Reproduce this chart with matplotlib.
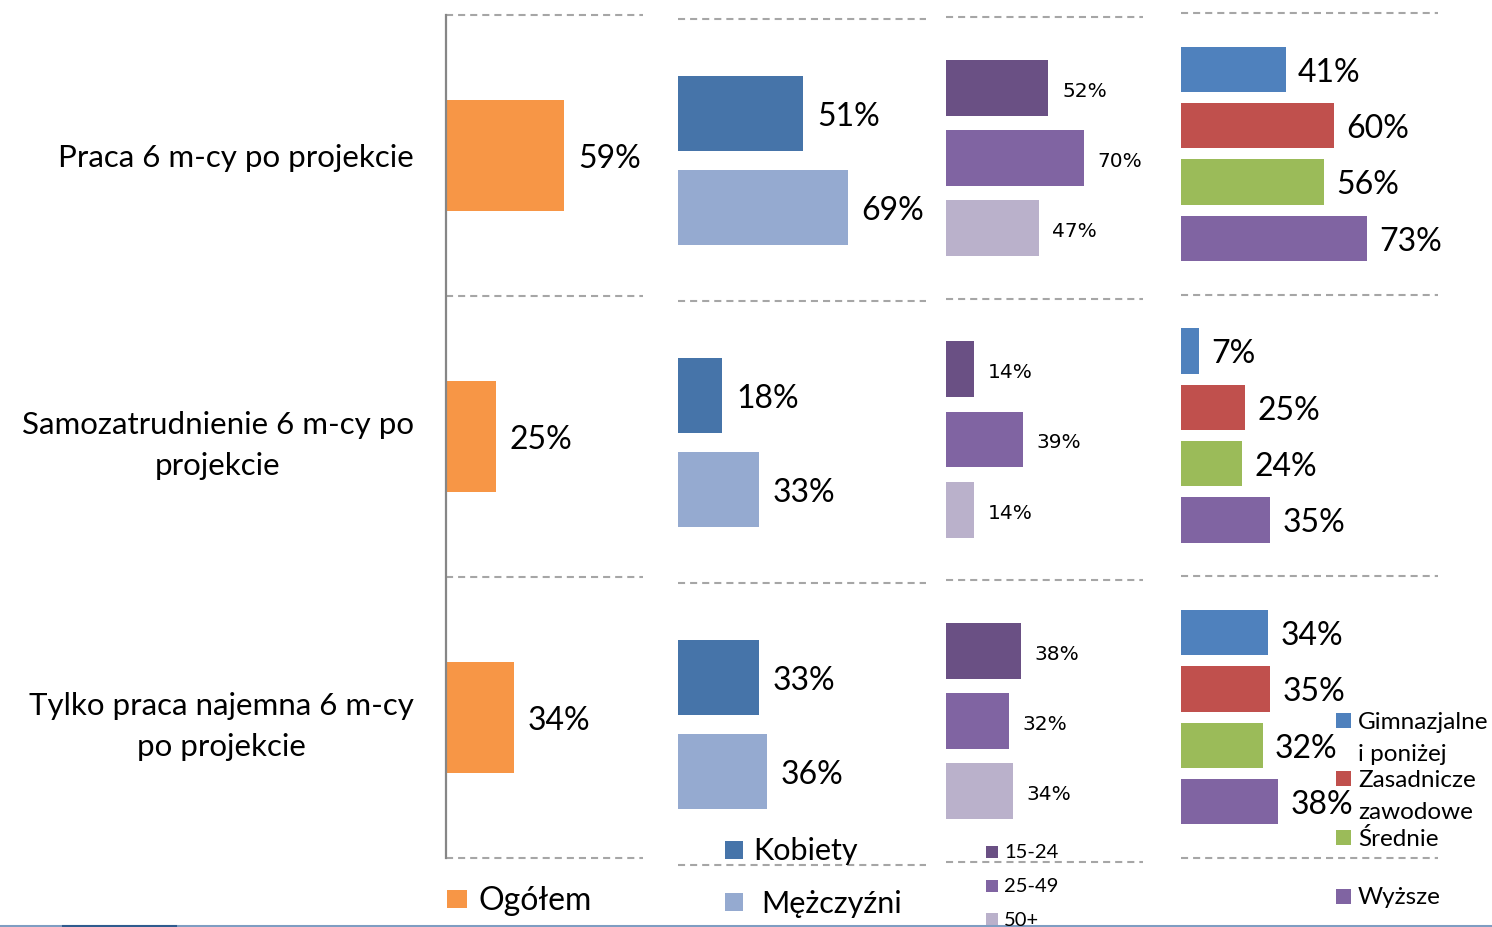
import matplotlib
matplotlib.use('Agg')
import matplotlib.pyplot as plt
from matplotlib.patches import Rectangle
from matplotlib.lines import Line2D

W, H = 1492, 927

categories = ["Praca 6 m-cy po projekcie",
              "Samozatrudnienie 6 m-cy po\nprojekcie",
              "Tylko praca najemna 6 m-cy\npo projekcie"]
ogolem = [59, 25, 34]
kobiety = [51, 18, 33]
mezczyzni = [69, 33, 36]
age_15_24 = [52, 14, 38]
age_25_49 = [70, 39, 32]
age_50_plus = [47, 14, 34]
gimnazjalne = [41, 7, 34]
zasadnicze = [60, 25, 35]
srednie = [56, 24, 32]
wyzsze = [73, 35, 38]

gender_labels = ["Kobiety", "Mężczyźni"]
age_labels = ["15-24", "25-49", "50+"]
edu_labels = ["Gimnazjalne\ni poniżej", "Zasadnicze\nzawodowe", "Średnie", "Wyższe"]

C_ORANGE = "#F79646"
C_GENDER = ["#4674A9", "#95AAD0"]
C_AGE = ["#6A5084", "#8064A2", "#BAB1CB"]
C_EDU = ["#4F81BD", "#C0504D", "#9BBB59", "#8064A2"]
GRID = "#A6A6A6"

MAIN = ["Lato", "DejaVu Sans"]
plt.rcParams['font.family'] = MAIN

fig = plt.figure(figsize=(W / 100, H / 100), dpi=100)


def add_ax(l, t, r, b):
    return fig.add_axes([l / W, 1 - b / H, (r - l) / W, (b - t) / H])


def fx(x):
    return x / W


def fy(y):
    return 1 - y / H


def panel(ax, series, colors, offsets, height, xmax, fs, family, pad, dy):
    n = len(categories)
    ys = list(range(n))
    for vals, col, off in zip(series, colors, offsets):
        pos = [y + off for y in ys]
        ax.barh(pos, vals, height=height, color=col, edgecolor='none')
        for p, v in zip(pos, vals):
            ax.annotate(f"{v}%", (v, p), xytext=(pad, dy), textcoords='offset points',
                        ha='left', va='center', fontsize=fs, family=family, color='black')
    ax.set_xlim(0, xmax)
    ax.set_ylim(n - 0.5, -0.5)
    for y in [-0.5 + i for i in range(n + 1)]:
        ax.axhline(y, color=GRID, lw=1.5, linestyle=(0, (3.4, 2.4)), clip_on=False)
    for s in ax.spines.values():
        s.set_visible(False)
    ax.set_xticks([])
    ax.tick_params(left=False)
    ax.patch.set_alpha(0)


# Panel 1 - Ogółem
ax1 = add_ax(446, 15, 643, 858)
panel(ax1, [ogolem], [C_ORANGE], [0], 0.395, 98.5, 23, MAIN, 10, -2.5)
ax1.set_yticks(range(len(categories)))
ax1.set_yticklabels(categories, fontsize=22.5, multialignment='center', linespacing=1.58)
ax1.tick_params(axis='y', pad=23, length=0)
ax1.spines['left'].set_visible(True)
ax1.spines['left'].set_color("#868686")
ax1.spines['left'].set_linewidth(1.6)

# Panel 2 - gender
ax2 = add_ax(678, 19, 926, 865)
panel(ax2, [kobiety, mezczyzni], C_GENDER, [-0.165, 0.168], 0.265, 100.8, 23, MAIN, 10, -2.5)
ax2.set_yticks([])

# Panel 3 - age
ax3 = add_ax(946, 17, 1143, 862)
panel(ax3, [age_15_24, age_25_49, age_50_plus], C_AGE, [-0.249, 0.0, 0.249], 0.198, 100,
      14.5, ["DejaVu Sans"], 10, -2.5)
ax3.set_yticks([])

# Panel 4 - education
ax4 = add_ax(1181, 13, 1438, 858)
panel(ax4, [gimnazjalne, zasadnicze, srednie, wyzsze], C_EDU, [-0.3, -0.1, 0.1, 0.3], 0.16,
      100.8, 23, MAIN, 9, -2.5)
ax4.set_yticks([])


# Legends (manual placement)
def legend_item(x0, y0, size_w, size_h, color, text, tx, ty, fs, family=MAIN, ls=1.2):
    fig.add_artist(Rectangle((fx(x0), fy(y0 + size_h)), size_w / W, size_h / H,
                             transform=fig.transFigure, facecolor=color, edgecolor='none'))
    fig.text(fx(tx), fy(ty), text, ha='left', va='center', fontsize=fs, family=family,
             linespacing=ls)


legend_item(447, 890, 20, 18, C_ORANGE, "Ogółem", 478, 901, 23)
legend_item(725, 841, 18, 18, C_GENDER[0], gender_labels[0], 753, 851, 22)
legend_item(725, 893, 18, 18, C_GENDER[1], gender_labels[1], 761, 904, 22)
for i, (lab, ty) in enumerate(zip(age_labels, [852, 886, 919])):
    legend_item(986, ty - 6, 12, 12, C_AGE[i], lab, 1004, ty + 1, 14.5)
edu_first = [721, 779, 838, 897]
for i, lab in enumerate(edu_labels):
    fl = edu_first[i]
    ty = fl + 16.5 if "\n" in lab else fl
    legend_item(1336, fl - 8, 15, 15, C_EDU[i], lab, 1358, ty + 1, 17.5, ls=1.6)

# bottom decorative line
fig.add_artist(Line2D([0, 1], [fy(925.5), fy(925.5)], transform=fig.transFigure,
                      color="#7F9DC2", lw=2.2))
fig.add_artist(Line2D([fx(63), fx(175)], [fy(925.5), fy(925.5)], transform=fig.transFigure,
                      color="#2F5B8E", lw=2.2))

fig.savefig("out.png", dpi=100)
